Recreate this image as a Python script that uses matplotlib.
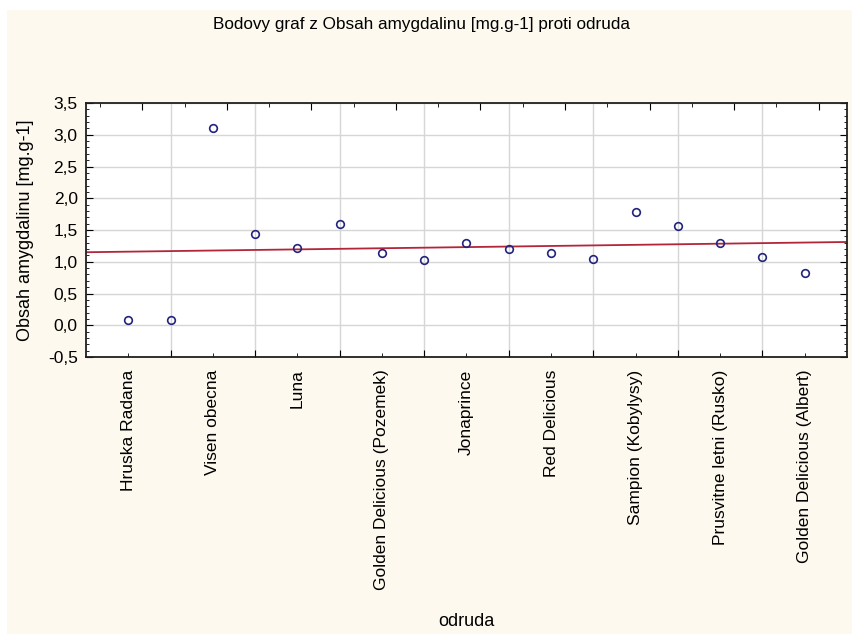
import numpy as np
import matplotlib
matplotlib.use("Agg")
import matplotlib.pyplot as plt
from matplotlib.ticker import MultipleLocator, FuncFormatter, FixedLocator
from matplotlib.patches import Rectangle

plt.rcParams['font.family'] = ['Liberation Sans', 'DejaVu Sans']

# ---- data ----
positions = list(range(1, 18))
values = [0.08, 0.08, 3.11, 1.44, 1.21, 1.59, 1.13, 1.03, 1.30,
          1.20, 1.13, 1.05, 1.79, 1.57, 1.30, 1.08, 0.83]
label_positions = [1, 3, 5, 7, 9, 11, 13, 15, 17]
x_labels = ["Hruska Radana", "Visen obecna", "Luna", "Golden Delicious (Pozemek)",
            "Jonaprince", "Red Delicious", "Sampion (Kobylysy)",
            "Prusvitne letni (Rusko)", "Golden Delicious (Albert)"]
title = "Bodovy graf z Obsah amygdalinu [mg.g-1] proti odruda"
x_title = "odruda"
y_title = "Obsah amygdalinu [mg.g-1]"

W, H = 853, 634
fig = plt.figure(figsize=(W / 100, H / 100), dpi=100, facecolor="white")
# cream panel
fig.patches.append(Rectangle((7 / W, 0), 1, 1 - 10 / H, transform=fig.transFigure,
                             facecolor="#fdf9ee", edgecolor="none", zorder=-10))

left, right, top, bottom = 86, 847, 103, 357
ax = fig.add_axes([left / W, 1 - bottom / H, (right - left) / W, (bottom - top) / H])
ax.set_facecolor("white")

ax.set_xlim(0, 18)
ax.set_ylim(-0.5, 3.5)

# grid
for yv in np.arange(-0.5, 3.51, 0.5):
    ax.axhline(yv, color="#d6d6d6", lw=1.0, zorder=0)
for xv in range(2, 18, 2):
    ax.axvline(xv, color="#d6d6d6", lw=1.0, zorder=0)

# regression line
xs = np.array(positions, dtype=float)
ys = np.array(values)
slope, intercept = np.polyfit(xs, ys, 1)
xl = np.array([0, 18])
ax.plot(xl, intercept + slope * xl, color="#b3263a", lw=1.3, zorder=2)

ax.plot(positions, values, linestyle="none", marker="o", markersize=5.5,
        markerfacecolor="none", markeredgecolor="#23237e", markeredgewidth=1.2, zorder=3)

# ticks
ax.yaxis.set_major_locator(MultipleLocator(0.5))
ax.yaxis.set_minor_locator(MultipleLocator(0.1))
ax.yaxis.set_major_formatter(FuncFormatter(lambda v, p: f"{v:.1f}".replace(".", ",")))
ax.xaxis.set_major_locator(FixedLocator(list(range(2, 18, 2))))
ax.xaxis.set_major_formatter(FuncFormatter(lambda v, p: ""))
ax.set_xticks(label_positions, minor=True)
ax.set_xticklabels(x_labels, minor=True, rotation=90, fontsize=12.5, va="top", ha="center")
ax.tick_params(axis="x", which="minor", length=3, direction="in", pad=9)
ax.tick_params(axis="x", which="major", length=5, direction="in")
ax.tick_params(axis="y", which="both", direction="in", left=True, right=True, labelsize=12.5, pad=6)
ax.tick_params(axis="y", which="major", length=5)
ax.tick_params(axis="y", which="minor", length=2.5)

sec = ax.secondary_xaxis("top")
sec.xaxis.set_major_locator(FixedLocator([k + 0.33 for k in range(1, 18, 2)]))
sec.xaxis.set_minor_locator(FixedLocator([k + 0.33 for k in range(0, 18, 2)]))
sec.tick_params(which="major", direction="in", length=5, labeltop=False)
sec.tick_params(which="minor", direction="in", length=3)
sec.spines["top"].set_visible(False)

for s in ax.spines.values():
    s.set_color("#202020")
    s.set_linewidth(1.3)

fig.text(26 / W, 1 - 230 / H, y_title, ha="center", va="center", rotation=90, fontsize=13)
fig.text(466 / W, 1 - 622 / H, x_title, ha="center", va="center", fontsize=13)
fig.text(422 / W, 1 - 25 / H, title, ha="center", va="center", fontsize=12.3)

fig.savefig("out.png", dpi=100, facecolor=fig.get_facecolor())
